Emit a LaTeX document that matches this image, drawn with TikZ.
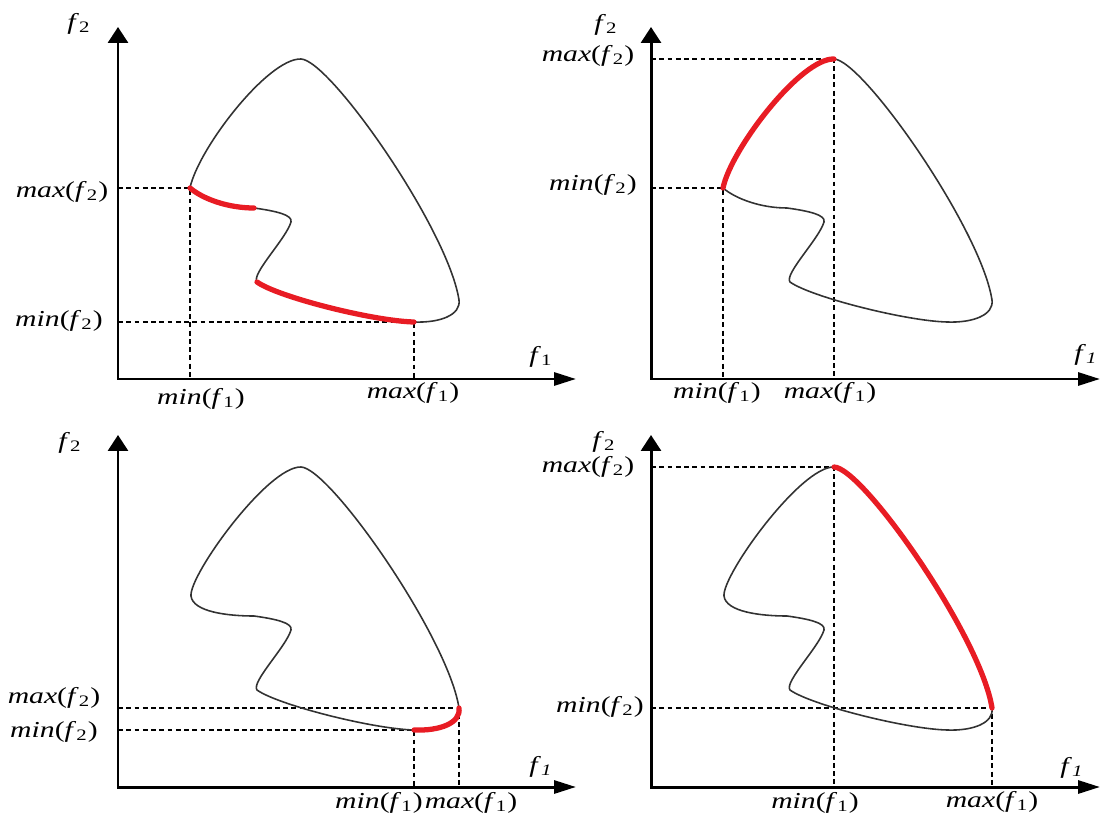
\documentclass[tikz,border=0pt]{standalone}
\usepackage{graphicx}
\usepackage{fontspec}
\setmainfont{Liberation Serif}
\usetikzlibrary{arrows.meta}

\definecolor{frontred}{RGB}{232,28,36}
\definecolor{curvegray}{RGB}{50,50,50}

\newcommand\wide[1]{\scalebox{1.3}[1]{#1}}
\newcommand\fn[1]{\textit{f}\textsubscript{#1}}

% outline pieces, each one ends at a named point of the panel
\newcommand\segUp{.. controls (Cu) and (150,321) .. (T)}
\newcommand\segRight{.. controls (212,319) and (330,150) .. (R)}
\newcommand\segTurn{.. controls (343,64) and (322,56) .. (L)}
\newcommand\segLow{.. controls (255,58) and (160,82) .. (B)}
\newcommand\segS{.. controls (133,105) and (168,140) .. (173,157) .. controls (175,164) and (158,168) .. (A)}
\newcommand\segBack{.. controls (110,171) and (Cb) .. (C)}

\newcommand\keypoints{\coordinate (O) at (0,0); \coordinate (T) at (183,320); \coordinate (R) at (341,79);
  \coordinate (L) at (296,57); \coordinate (B) at (139,97); \coordinate (A) at (136,171);}
\newcommand\sharptip{\coordinate (C) at (72,191); \coordinate (Cu) at (80,230); \coordinate (Cb) at (85,180);}
\newcommand\roundtip{\coordinate (C) at (73,191); \coordinate (Cu) at (71,212); \coordinate (Cb) at (75,175);}

\begin{document}
\begin{tikzpicture}[x=0.02cm,y=0.02cm,
  axis/.style={line width=1.7pt,line join=miter},
  guide/.style={line width=.7pt,dash pattern=on 2.8pt off 1.9pt},
  outline/.style={line width=.9pt,curvegray,line cap=round,line join=round},
  front/.style={line width=3pt,frontred,line cap=round},
  lab/.style={font=\fontsize{13}{15}\selectfont,inner sep=0pt}]
\useasboundingbox (0,0) rectangle (1102,816);

\begin{scope}[shift={(118,437)}]
\keypoints \sharptip
\draw[guide] (O |- C) -| (C |- O) (O |- L) -| (L |- O);
\draw[outline] (C) \segUp \segRight \segTurn \segLow \segS \segBack;
\draw[front] (A) \segBack;
\draw[front] (L) \segLow;
\draw[axis,{Triangle[length=0.32cm,width=0.4cm]}-{Triangle[length=0.44cm,width=0.26cm]}] (0,352) -- (O) -- (458,0);
\node[lab] (a-f2) at (-39,355) {\wide{\fn{2}}};
\node[lab] (a-f1) at (423,22) {\wide{\fn{1}}};
\node[lab] (a-max2) at (-56,187) {\wide{\textit{max}(\fn{2})}};
\node[lab] (a-min2) at (-59,58) {\wide{\textit{min}(\fn{2})}};
\node[lab] (a-min1) at (83,-20) {\wide{\textit{min}(\fn{1})}};
\node[lab] (a-max1) at (295,-14) {\wide{\textit{max}(\fn{1})}};
\end{scope}

\begin{scope}[shift={(651,437)}]
\keypoints \sharptip
\draw[guide] (O |- T) -| (T |- O) (O |- C) -| (C |- O);
\draw[outline] (C) \segUp \segRight \segTurn \segLow \segS \segBack;
\draw[front] (C) \segUp;
\draw[axis,{Triangle[length=0.32cm,width=0.4cm]}-{Triangle[length=0.44cm,width=0.26cm]}] (0,352) -- (O) -- (449,0);
\node[lab] (b-f2) at (-45,354) {\wide{\fn{2}}};
\node[lab] (b-f1) at (435,24) {\wide{\fn{\textit{1}}}};
\node[lab] (b-max2) at (-63,323) {\wide{\textit{max}(\fn{2})}};
\node[lab] (b-min2) at (-58,194) {\wide{\textit{min}(\fn{2})}};
\node[lab] (b-min1) at (66,-14) {\wide{\textit{min}(\fn{1})}};
\node[lab] (b-max1) at (179,-14) {\wide{\textit{max}(\fn{1})}};
\end{scope}

\begin{scope}[shift={(118,29)}]
\keypoints \roundtip
\draw[guide] (O |- R) -| (R |- O) (O |- L) -| (L |- O);
\draw[outline] (C) \segUp \segRight \segTurn \segLow \segS \segBack;
\draw[front] (R) \segTurn;
\draw[axis,{Triangle[length=0.32cm,width=0.4cm]}-{Triangle[length=0.44cm,width=0.26cm]}] (0,352) -- (O) -- (458,0);
\node[lab] (c-f2) at (-48,344) {\wide{\fn{2}}};
\node[lab] (c-f1) at (423,20) {\wide{\fn{\textit{1}}}};
\node[lab] (c-max2) at (-64,89) {\wide{\textit{max}(\fn{2})}};
\node[lab] (c-min2) at (-64,55) {\wide{\textit{min}(\fn{2})}};
\node[lab] (c-min1) at (261,-16) {\wide{\textit{min}(\fn{1})}};
\node[lab] (c-max1) at (353,-16) {\wide{\textit{max}(\fn{1})}};
\end{scope}

\begin{scope}[shift={(651,29)}]
\keypoints \roundtip
\draw[guide] (O |- T) -| (T |- O) (O |- R) -| (R |- O);
\draw[outline] (C) \segUp \segRight \segTurn \segLow \segS \segBack;
\draw[front] (T) \segRight;
\draw[axis,{Triangle[length=0.32cm,width=0.4cm]}-{Triangle[length=0.44cm,width=0.26cm]}] (0,352) -- (O) -- (449,0);
\node[lab] (d-f2) at (-47,345) {\wide{\fn{2}}};
\node[lab] (d-f1) at (421,19) {\wide{\fn{\textit{1}}}};
\node[lab] (d-max2) at (-63,320) {\wide{\textit{max}(\fn{2})}};
\node[lab] (d-min2) at (-51,80) {\wide{\textit{min}(\fn{2})}};
\node[lab] (d-min1) at (164,-16) {\wide{\textit{min}(\fn{1})}};
\node[lab] (d-max1) at (341,-15) {\wide{\textit{max}(\fn{1})}};
\end{scope}
\end{tikzpicture}
\end{document}
